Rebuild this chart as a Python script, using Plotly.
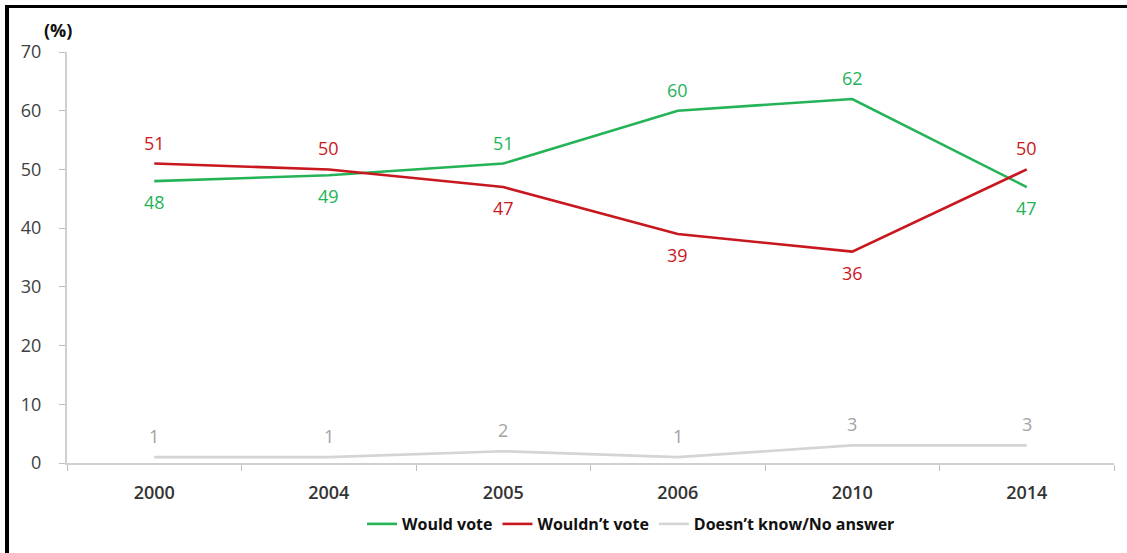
import plotly.graph_objects as go

years = ["2000", "2004", "2005", "2006", "2010", "2014"]
would_vote = [48, 49, 51, 60, 62, 47]
wouldnt_vote = [51, 50, 47, 39, 36, 50]
dont_know = [1, 1, 2, 1, 3, 3]

# label placement per point: +1 above the line, -1 below
would_pos = [-1, -1, 1, 1, 1, -1]
wouldnt_pos = [1, 1, -1, -1, -1, 1]
dk_pos = [1, 1, 1, 1, 1, 1]

W, H = 1127, 553
ML, MR, MT, MB = 67, 13, 52, 90
PW, PH = W - ML - MR, H - MT - MB

GREEN = "#25B357"
RED = "#C8171E"
GREY = "#D4D4D4"
FONT = "Open Sans"

series = [
    ("Would vote", would_vote, would_pos, GREEN, GREEN),
    ("Wouldn\u2019t vote", wouldnt_vote, wouldnt_pos, RED, RED),
    ("Doesn\u2019t know/No answer", dont_know, dk_pos, GREY, "#A3A3A3"),
]

fig = go.Figure()
annotations = []
for name, vals, pos, color, label_color in series:
    fig.add_trace(go.Scatter(
        x=years, y=vals, mode="lines", name=name,
        line=dict(color=color, width=2.6),
    ))
    # category index positions for the value labels
    for i, (v, p) in enumerate(zip(vals, pos)):
        annotations.append(dict(
            x=i, y=v, xref="x", yref="y", text=str(v), showarrow=False,
            yshift=21 * p, font=dict(family=FONT, size=18, color=label_color),
        ))

def px_x(x):
    return (x - ML) / PW

def px_y(y):
    return (H - MB - y) / PH

annotations.append(dict(
    xref="paper", yref="paper", x=px_x(58), y=px_y(30),
    xanchor="center", yanchor="middle",
    text="<b>(%)</b>", showarrow=False,
    font=dict(family=FONT, size=18, color="#111111"),
))

shapes = [
    dict(type="line", xref="paper", yref="paper",
         x0=px_x(7), x1=px_x(7), y0=px_y(5), y1=px_y(H),
         line=dict(color="black", width=4)),
    dict(type="line", xref="paper", yref="paper",
         x0=px_x(5), x1=px_x(W), y0=px_y(6.5), y1=px_y(6.5),
         line=dict(color="black", width=3)),
]

fig.update_layout(
    width=W, height=H,
    margin=dict(l=ML, r=MR, t=MT, b=MB),
    paper_bgcolor="white", plot_bgcolor="white",
    showlegend=True,
    legend=dict(
        orientation="h", x=px_x(362), y=px_y(524), xanchor="left", yanchor="middle",
        font=dict(family=FONT, size=16, color="#111111", weight="bold"),
        itemwidth=30,
    ),
    annotations=annotations,
    shapes=shapes,
    xaxis=dict(
        type="category", categoryorder="array", categoryarray=years,
        range=[-0.5, len(years) - 0.5], autorange=False,
        tickson="boundaries", ticks="outside", ticklen=6,
        tickcolor="#BFBFBF", showline=True, linecolor="#D0D0D0", linewidth=2,
        showgrid=False, ticklabelstandoff=12,
        tickfont=dict(family=FONT, size=18, color="#333333", weight=600),
    ),
    yaxis=dict(
        range=[0, 70], tickvals=[0, 10, 20, 30, 40, 50, 60, 70],
        ticks="outside", ticklen=6, tickcolor="#BFBFBF",
        showline=True, linecolor="#D0D0D0", linewidth=2,
        showgrid=False, zeroline=False, ticklabelstandoff=14,
        tickfont=dict(family=FONT, size=18, color="#404040"),
    ),
)

fig.write_html("out.html")
